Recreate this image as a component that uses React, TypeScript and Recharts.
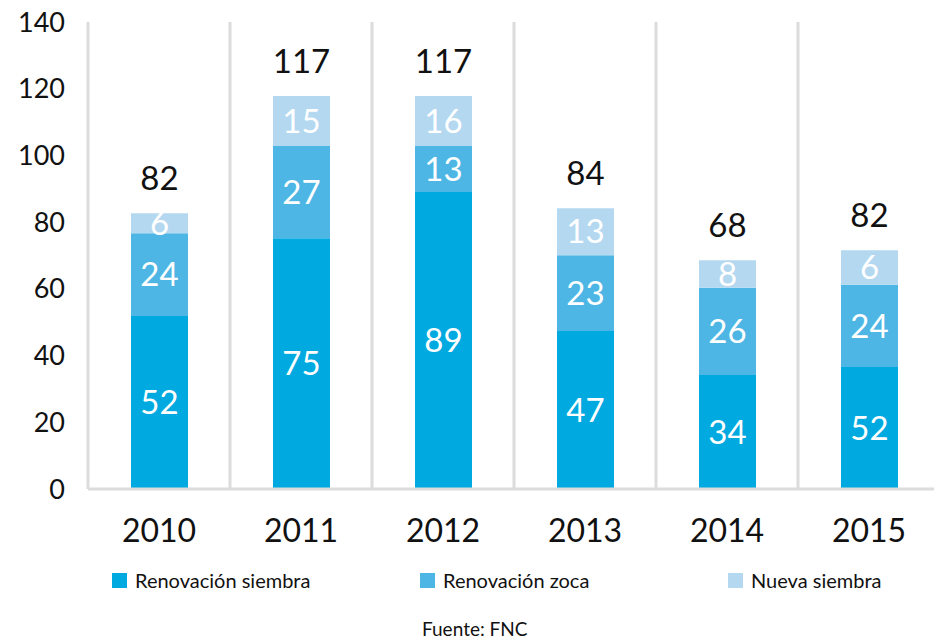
import React from 'react';
import { BarChart, Bar, XAxis, YAxis, CartesianGrid, Legend, LabelList } from 'recharts';

// bar heights as drawn in the picture
const years = ['2010', '2011', '2012', '2013', '2014', '2015'];
const siembra = [51.9, 75.2, 89.0, 47.4, 34.2, 36.6];
const zoca = [24.8, 27.6, 13.8, 22.7, 26.1, 24.6];
const nueva = [6.0, 15.0, 15.0, 14.1, 8.3, 10.4];

// numbers printed on the bars
const siembraLbl = [52, 75, 89, 47, 34, 52];
const zocaLbl = [24, 27, 13, 23, 26, 24];
const nuevaLbl = [6, 15, 16, 13, 8, 6];
const totalLbl = [82, 117, 117, 84, 68, 82];

const seriesNames = ['Renovación siembra', 'Renovación zoca', 'Nueva siembra'];
const yTicks = [0, 20, 40, 60, 80, 100, 120, 140];

const data = years.map((year, i) => ({
  year,
  siembra: siembra[i],
  zoca: zoca[i],
  nueva: nueva[i],
  siembraLbl: siembraLbl[i],
  zocaLbl: zocaLbl[i],
  nuevaLbl: nuevaLbl[i],
  totalLbl: totalLbl[i],
}));

const FONT = 'Lato, "Noto Sans", sans-serif';
const GRID = '#dcdcdc';

// vertical lines sit on the category boundaries, not the centers
const boundaries = ({ offset }: any) =>
  years.map((_, i) => offset.left + (i * offset.width) / years.length);

const renderLegend = ({ payload }: any) => {
  const items = [...(payload || [])].sort(
    (a: any, b: any) => seriesNames.indexOf(a.value) - seriesNames.indexOf(b.value)
  );
  return (
    <div style={{ height: 90, position: 'relative', fontFamily: FONT, color: '#111' }}>
      {items.map((p: any, i: number) => (
        <div
          key={p.value}
          style={{ position: 'absolute', left: 112 + i * 308, top: 19, display: 'flex', alignItems: 'center', whiteSpace: 'nowrap' }}
        >
          <span style={{ width: 15, height: 15, background: p.color, marginRight: 8, display: 'inline-block' }} />
          <span style={{ fontSize: 20, lineHeight: '24px' }}>{p.value}</span>
        </div>
      ))}
      <div style={{ position: 'absolute', left: 422, top: 68, fontSize: 19 }}>Fuente: FNC</div>
    </div>
  );
};

const inside = { fill: '#fff', fontSize: 33, fontFamily: FONT };

export default function App() {
  return (
    <div style={{ position: 'absolute', left: 0, top: 0, width: 934, height: 639, overflow: 'hidden', background: '#fff' }}>
      <BarChart
        width={940}
        height={639}
        data={data}
        margin={{ top: 22, right: 0, left: 0, bottom: 0 }}
        style={{ fontFamily: FONT }}
      >
        <CartesianGrid
          horizontal={false}
          stroke={GRID}
          strokeWidth={3}
          verticalCoordinatesGenerator={boundaries}
        />
        <XAxis
          dataKey="year"
          height={60}
          axisLine={{ stroke: GRID, strokeWidth: 3 }}
          tickLine={false}
          tickMargin={24}
          tick={{ fill: '#111', fontSize: 32, fontFamily: FONT }}
        />
        <YAxis
          width={88}
          domain={[0, 140]}
          ticks={yTicks}
          axisLine={false}
          tickLine={false}
          tickMargin={17}
          tick={{ fill: '#111', fontSize: 27, fontFamily: FONT }}
        />
        <Legend verticalAlign="bottom" wrapperStyle={{ left: 0, width: 934 }} content={renderLegend} />
        <Bar dataKey="siembra" name={seriesNames[0]} stackId="a" fill="#00a9e0" barSize={57} isAnimationActive={false}>
          <LabelList dataKey="siembraLbl" position="center" {...inside} />
        </Bar>
        <Bar dataKey="zoca" name={seriesNames[1]} stackId="a" fill="#4eb6e4" barSize={57} isAnimationActive={false}>
          <LabelList dataKey="zocaLbl" position="center" {...inside} />
        </Bar>
        <Bar dataKey="nueva" name={seriesNames[2]} stackId="a" fill="#b3d8f0" barSize={57} isAnimationActive={false}>
          <LabelList dataKey="nuevaLbl" position="center" {...inside} />
          <LabelList dataKey="totalLbl" position="top" offset={23} fill="#111" fontSize={33} fontFamily={FONT} />
        </Bar>
      </BarChart>
    </div>
  );
}
